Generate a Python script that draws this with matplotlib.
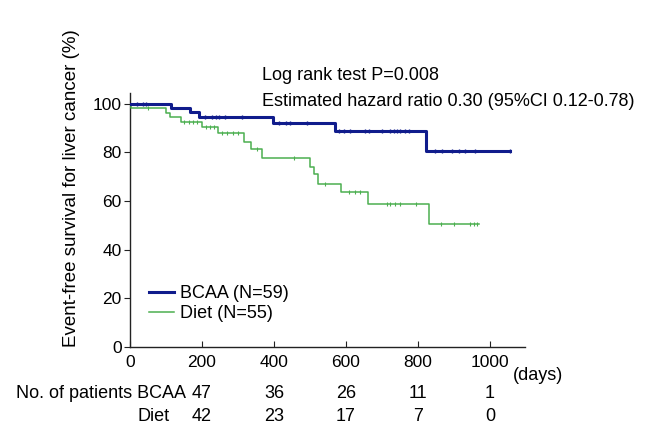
import numpy as np
import matplotlib
matplotlib.use("Agg")
import matplotlib.pyplot as plt
from matplotlib.lines import Line2D
import matplotlib.transforms as mtransforms

plt.rcParams['font.family'] = ['Liberation Sans', 'DejaVu Sans']

# ---- data ----
bcaa_times = [0, 113, 166, 191, 397, 569, 823]
bcaa_surv = [100, 98.5, 96.5, 94.8, 92.0, 89.0, 80.8]
bcaa_end = 1054
bcaa_censor = [20, 35, 45, 208, 227, 238, 247, 263, 310, 413, 432, 443, 492,
               580, 594, 612, 654, 663, 700, 723, 732, 741, 751, 765, 774,
               848, 866, 894, 913, 931, 959, 1054]

diet_times = [0, 3, 100, 110, 141, 201, 244, 316, 337, 367, 501, 511, 523, 587, 661, 829]
diet_surv = [100, 98.5, 96.4, 94.5, 92.5, 90.4, 87.9, 84.5, 81.3, 77.8, 74.2, 71.0,
             67.0, 63.6, 58.9, 50.4]
diet_end = 968
diet_censor = [50, 150, 165, 175, 185, 210, 222, 232, 255, 270, 285, 300, 352, 455,
               541, 607, 626, 640, 714, 723, 737, 751, 794, 865, 899, 945, 954, 963]

risk_days = [200, 400, 600, 800, 1000]
risk_bcaa = [47, 36, 26, 11, 1]
risk_diet = [42, 23, 17, 7, 0]

xticks = [0, 200, 400, 600, 800, 1000]
yticks = [0, 20, 40, 60, 80, 100]

bcaa_color = '#101c8c'
diet_color = '#4caf50'

W, H = 665, 429
FS = 13
fig = plt.figure(figsize=(W / 100, H / 100), dpi=100)
ax = fig.add_axes([130 / W, 1 - 346.7 / H, (525 - 130) / W, (346.7 - 93) / H])


def stepcurve(times, surv, end):
    t = list(times) + [end]
    s = list(surv) + [surv[-1]]
    return t, s


def surv_at(times, surv, t):
    idx = np.searchsorted(times, t, side='right') - 1
    return np.asarray(surv)[idx]


t, s = stepcurve(diet_times, diet_surv, diet_end)
ax.step(t, s, where='post', color=diet_color, lw=1.1, zorder=3)
ax.plot(diet_censor, surv_at(diet_times, diet_surv, diet_censor), ls='none',
        marker='|', ms=2.8, mew=0.8, color=diet_color, zorder=3)

t, s = stepcurve(bcaa_times, bcaa_surv, bcaa_end)
ax.step(t, s, where='post', color=bcaa_color, lw=2.2, zorder=4)
ax.plot(bcaa_censor, surv_at(bcaa_times, bcaa_surv, bcaa_censor), ls='none',
        marker='|', ms=3.2, mew=1.0, color=bcaa_color, zorder=4)

ax.set_xlim(0, 1097)
ax.set_ylim(0, 104.5)
ax.spines['top'].set_visible(False)
ax.spines['right'].set_visible(False)
for sp in ['left', 'bottom']:
    ax.spines[sp].set_linewidth(1.0)
    ax.spines[sp].set_color('#222222')
ax.set_xticks(xticks)
ax.set_yticks(yticks)
ax.tick_params(axis='x', direction='in', length=4, labelsize=12.5, pad=6, color='#222222')
ax.tick_params(axis='y', direction='out', length=4, labelsize=12.5, pad=2, color='#222222')

fig.text(72 / W, 1 - 188 / H, 'Event-free survival for liver cancer (%)', rotation=90,
         ha='center', va='center', fontsize=13.5)

fig.text(262 / W, 1 - 75 / H, 'Log rank test P=0.008', ha='left', va='center', fontsize=FS)
fig.text(262 / W, 1 - 101 / H, 'Estimated hazard ratio 0.30 (95%CI 0.12-0.78)',
         ha='left', va='center', fontsize=FS)

# legend
handles = [Line2D([], [], color=bcaa_color, lw=2.2), Line2D([], [], color=diet_color, lw=1.1)]
leg = ax.legend(handles, ['BCAA (N=59)', 'Diet (N=55)'], loc='lower left',
                bbox_to_anchor=(0.025, 0.06), frameon=False, fontsize=FS,
                handlelength=1.4, handletextpad=0.35, labelspacing=0.2, borderpad=0)

fig.text(513 / W, 1 - 376 / H, '(days)', ha='left', va='center', fontsize=FS)

# risk table
trans = mtransforms.blended_transform_factory(ax.transData, fig.transFigure)
fig.text(186 / W, 1 - 394 / H, 'No. of patients BCAA', ha='right', va='center', fontsize=FS)
fig.text(170 / W, 1 - 416.5 / H, 'Diet', ha='right', va='center', fontsize=FS)
for d, b, dd in zip(risk_days, risk_bcaa, risk_diet):
    ax.text(d, 1 - 394 / H, str(b), transform=trans, ha='center', va='center', fontsize=FS)
    ax.text(d, 1 - 416.5 / H, str(dd), transform=trans, ha='center', va='center', fontsize=FS)

fig.savefig('out.png', dpi=100)
